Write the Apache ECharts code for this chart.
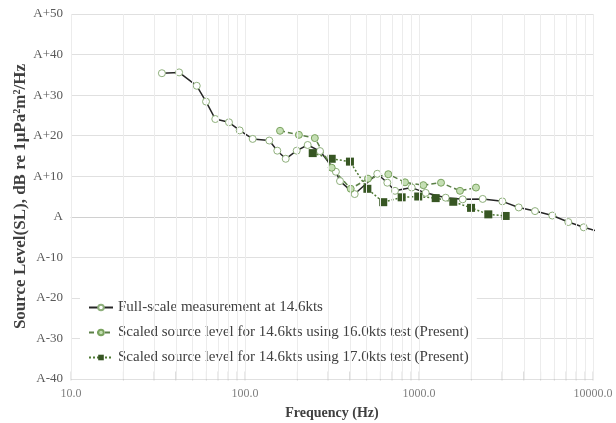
<!DOCTYPE html>
<html>
<head>
<meta charset="utf-8">
<script src="https://cdn.jsdelivr.net/npm/echarts@6/dist/echarts.min.js"></script>
<style>
html,body{margin:0;padding:0;background:#fff;}
#chart{width:616px;height:423px;}
</style>
</head>
<body>
<div id="chart"></div>
<script>
// Full-scale measurement at 14.6kts
const freqFull = [33.3, 41.8, 52.8, 59.7, 67.5, 80.9, 93.2, 110.7, 137.9, 153.3, 171.4, 198.2, 229.2, 269.8, 333, 351.6, 427, 575.7, 657.5, 728, 908, 1092, 1423, 1783, 2323, 3013, 3742, 4642, 5837, 7213, 8844, 11400];
const slFull   = [35.4, 35.6, 32.3, 28.4, 24.1, 23.3, 21.3, 19.2, 18.8, 16.3, 14.3, 16.3, 17.7, 16.2, 11.1, 8.8, 5.6, 10.6, 8.4, 6.4, 7.2, 5.9, 4.7, 4.3, 4.4, 3.8, 2.3, 1.4, 0.3, -1.3, -2.6, -3.9];
// Scaled source level using 16.0kts test
const freq16 = [159, 204, 252, 315, 405, 509, 666, 831, 1059, 1338, 1720, 2126];
const sl16   = [21.2, 20.2, 19.4, 12.1, 6.9, 9.4, 10.5, 8.5, 7.8, 8.4, 6.4, 7.2];
// Scaled source level using 17.0kts test
const freq17 = [245, 315, 401, 505, 623, 795, 990, 1247, 1574, 1991, 2502, 3148];
const sl17   = [15.7, 14.3, 13.6, 6.9, 3.6, 4.8, 5.0, 4.6, 3.7, 2.2, 0.6, 0.2];

const seriesNames = [
  'Full-scale measurement at 14.6kts',
  'Scaled source level for 14.6kts using 16.0kts test (Present)',
  'Scaled source level for 14.6kts using 17.0kts test (Present)'
];
const xMin = 10, xMax = 10000;
const yMin = -40, yMax = 50, yStep = 10;

// minor log gridline positions (2..9 in each decade)
const minorFreqs = [];
for (let d = 10; d < xMax; d *= 10) {
  for (let k = 1; k <= 9; k++) minorFreqs.push(d * k);
}
minorFreqs.push(xMax);

const pair = (xs, ys) => xs.map((x, i) => [x, ys[i]]);
const font = 'Liberation Serif';

const chart = echarts.init(document.getElementById('chart'), null, {renderer: 'canvas'});
chart.setOption({
  animation: false,
  backgroundColor: '#ffffff',
  grid: {left: 71, right: 23, top: 14, bottom: 44, containLabel: false, outerBoundsMode: 'none'},
  xAxis: {
    type: 'log', logBase: 10, min: xMin, max: xMax,
    name: 'Frequency (Hz)', nameLocation: 'middle', nameGap: 27, nameMoveOverlap: false,
    nameTextStyle: {fontFamily: font, fontWeight: 'bold', fontSize: 14, color: '#404040'},
    axisLine: {show: true, lineStyle: {color: '#d0d0d0', width: 1}},
    axisTick: {show: false},
    axisLabel: {fontFamily: font, fontSize: 12, color: '#808080', margin: 9,
      formatter: v => Number(v).toFixed(1)},
    splitLine: {show: true, lineStyle: {color: '#e6e6e6', width: 1}},
    minorTick: {show: false}, minorSplitLine: {show: false}
  },
  yAxis: {
    type: 'value', min: yMin, max: yMax, interval: yStep,
    name: 'Source Level(SL), dB re 1μPa²m²/Hz', nameLocation: 'middle', nameGap: 42, nameMoveOverlap: false,
    nameTextStyle: {fontFamily: font, fontWeight: 'bold', fontSize: 17, color: '#404040'},
    axisLine: {show: false}, axisTick: {show: false},
    axisLabel: {fontFamily: font, fontSize: 13, color: '#595959', margin: 8,
      formatter: v => v === 0 ? 'A' : (v > 0 ? 'A+' + v : 'A' + v)},
    splitLine: {show: true, lineStyle: {color: '#e0e0e0', width: 1}}
  },
  legend: {
    data: seriesNames,
    orient: 'vertical', left: 80, top: 287,
    padding: [13, 8, 5, 8], itemGap: 10,
    itemWidth: 24, itemHeight: 7,
    backgroundColor: '#ffffff',
    textStyle: {fontFamily: font, fontSize: 15, color: '#404040', lineHeight: 15}
  },
  series: [
    {
      name: 'gridMinor', type: 'line', data: [], silent: true, z: 0,
      markLine: {silent: true, symbol: 'none', animation: false,
        label: {show: false},
        lineStyle: {color: '#ececec', type: 'solid', width: 1},
        data: minorFreqs.map(f => ({xAxis: f}))}
    },
    {
      name: 'ticks', type: 'scatter', silent: true, z: 1,
      data: minorFreqs.map(f => [f, yMin]),
      symbol: 'rect', symbolSize: [1, 9], symbolOffset: [0, -3],
      itemStyle: {color: '#c8c8c8'}
    },
    {
      name: seriesNames[0], type: 'line', data: pair(freqFull, slFull),
      symbol: 'circle', symbolSize: 7, showAllSymbol: true,
      lineStyle: {color: '#262626', width: 1.5},
      itemStyle: {color: '#ffffff', borderColor: '#8fb07c', borderWidth: 1}
    },
    {
      name: seriesNames[1], type: 'line', data: pair(freq16, sl16),
      symbol: 'circle', symbolSize: 7, showAllSymbol: true,
      lineStyle: {color: '#5b7f47', width: 1.5, type: [5, 3]},
      itemStyle: {color: '#c5dfb4', borderColor: '#7aa35f', borderWidth: 1}
    },
    {
      name: seriesNames[2], type: 'line', data: pair(freq17, sl17),
      symbol: 'rect', symbolSize: 8, showAllSymbol: true,
      lineStyle: {color: '#4f7a35', width: 1.5, type: [2, 2]},
      itemStyle: {color: '#375623', borderColor: '#375623', borderWidth: 0}
    }
  ]
});
</script>
</body>
</html>
